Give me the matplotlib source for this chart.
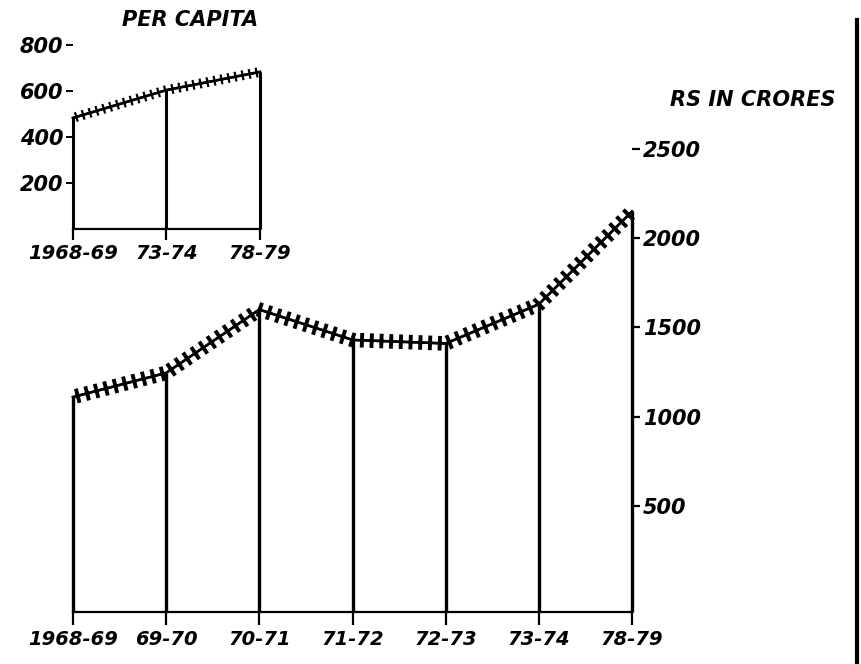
import matplotlib
matplotlib.use('Agg')
import matplotlib.pyplot as plt
import matplotlib.patheffects as pe
import numpy as np

# Data
main_years = ['1968-69', '69-70', '70-71', '71-72', '72-73', '73-74', '78-79']
main_values = [1110, 1245, 1600, 1430, 1410, 1630, 2150]
right_ticks = [500, 1000, 1500, 2000, 2500]

pc_years = ['1968-69', '73-74', '78-79']
pc_values = [483, 604, 683]
pc_ticks = [200, 400, 600, 800]

W, H = 861, 664
fig = plt.figure(figsize=(W / 100, H / 100), dpi=100)
font = dict(family='DejaVu Sans', style='italic', weight='bold')

def box(x0, x1, ybot, ytop):
    return [x0 / W, 1 - ybot / H, (x1 - x0) / W, (ybot - ytop) / H]

# ---- main chart ----
ax = fig.add_axes(box(73, 632, 612, 149))
xm = np.arange(len(main_years))
ymin = -95
ax.set_xlim(0, len(main_years) - 1)
ax.set_ylim(ymin, 2500)
ax.vlines(xm, ymin, main_values, color='black', lw=2.4, zorder=3, clip_on=False)
ax.plot(xm, main_values, color='black', lw=1.8, zorder=4, clip_on=False,
        path_effects=[pe.withTickedStroke(angle=90, spacing=7, length=0.55, linewidth=2.8),
                      pe.withTickedStroke(angle=-90, spacing=7, length=0.55, linewidth=2.8)])
for s in ['top', 'left', 'right']:
    ax.spines[s].set_visible(False)
ax.spines['bottom'].set_linewidth(1.6)
ax.set_xticks(xm)
ax.set_xticklabels(main_years, fontsize=14, **font)
ax.tick_params(axis='x', direction='out', length=9, width=1.6, pad=4)
ax.yaxis.tick_right()
ax.set_yticks(right_ticks)
ax.set_yticklabels([str(v) for v in right_ticks], fontsize=15, **font)
ax.tick_params(axis='y', direction='out', length=6, width=1.6, pad=2)
ax.patch.set_alpha(0)
fig.text(670 / W, 1 - 100 / H, 'RS IN CRORES', fontsize=15, ha='left', va='center', **font)

# ---- per capita inset ----
ax2 = fig.add_axes(box(73, 260, 229, 45))
xp = np.arange(len(pc_years))
ax2.set_xlim(0, len(pc_years) - 1)
ax2.set_ylim(0, 800)
ax2.vlines(xp, 0, pc_values, color='black', lw=2.2, zorder=3, clip_on=False)
ax2.plot(xp, pc_values, color='black', lw=1.8, zorder=4, clip_on=False,
         path_effects=[pe.withTickedStroke(angle=90, spacing=5, length=0.55, linewidth=1.6),
                       pe.withTickedStroke(angle=-90, spacing=5, length=0.55, linewidth=1.6)])
for s in ['top', 'left', 'right']:
    ax2.spines[s].set_visible(False)
ax2.spines['bottom'].set_linewidth(1.6)
ax2.set_xticks(xp)
ax2.set_xticklabels(pc_years, fontsize=14, **font)
ax2.tick_params(axis='x', direction='out', length=8, width=1.6, pad=3)
ax2.set_yticks(pc_ticks)
ax2.set_yticklabels([str(v) for v in pc_ticks], fontsize=15, **font)
ax2.tick_params(axis='y', direction='out', length=5, width=1.4, pad=2)
ax2.patch.set_alpha(0)
fig.text(190 / W, 1 - 20 / H, 'PER CAPITA', fontsize=15, ha='center', va='center', **font)

# scan edge on the right
fig.add_artist(plt.Line2D([857 / W, 857 / W], [0, 1 - 20 / H], color='black', lw=3,
                          transform=fig.transFigure))

fig.savefig('out.png', dpi=100)
